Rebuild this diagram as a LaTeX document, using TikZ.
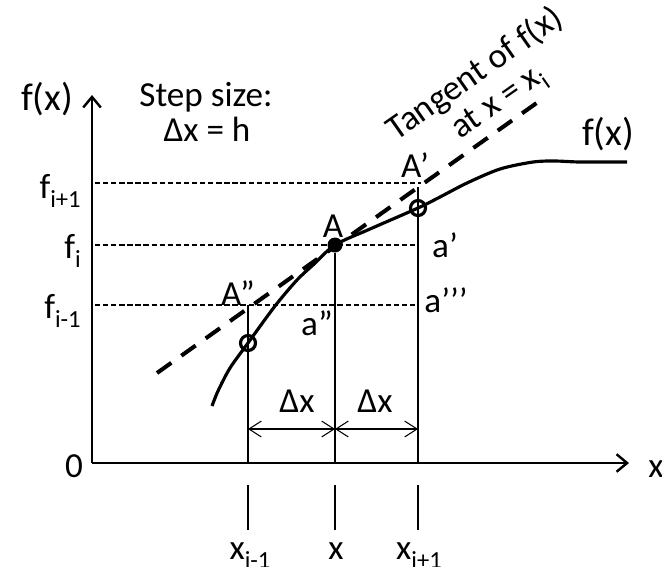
\documentclass[tikz,border=0pt]{standalone}
\usepackage{fontspec}
\setmainfont{Carlito}
\usetikzlibrary{arrows.meta}
\newcommand{\lsub}[1]{\raisebox{-0.55ex}{\fontsize{14}{14}\selectfont #1}}
\tikzset{
  axis/.style={line width=1.4pt, -{Straight Barb[length=6pt,width=10pt]}},
  guide/.style={line width=0.6pt, dash pattern=on 3pt off 1.6pt},
  vline/.style={line width=0.7pt},
  tangent/.style={line width=2.3pt, dash pattern=on 10pt off 7pt},
  curve/.style={line width=1.8pt},
  dxarrow/.style={line width=0.6pt,
    {Straight Barb[length=7pt,width=9pt]}-{Straight Barb[length=7pt,width=9pt]}},
  opendot/.style={circle, draw, line width=1.8pt, minimum size=0.3cm, inner sep=0pt},
  fulldot/.style={circle, fill, minimum size=0.3cm, inner sep=0pt},
  lbl/.style={inner sep=0pt, anchor=base, font=\fontsize{20}{24}\selectfont},
  biglbl/.style={lbl, font=\fontsize{22}{26}\selectfont},
}

\begin{document}
\begin{tikzpicture}[x=0.02cm, y=-0.02cm]
    \useasboundingbox (0,0) rectangle (662,566);
    % axes
    \coordinate (O) at (92,463);
    \coordinate (ytop) at (92,95);
    \coordinate (xend) at (629,463);
    \draw[axis] (O) -- (ytop);
    \draw[axis] (O) -- (xend);
    % grid points
    \foreach \n/\x in {m/248, 0/335, p/418} {
      \coordinate (base\n) at (\x,463);
      \coordinate (ttop\n) at (\x,485);
      \coordinate (tbot\n) at (\x,530);
      \draw[vline] (ttop\n) -- (tbot\n);
    }
    % guides to the f axis
    \coordinate (gp) at (95,183); \coordinate (gpe) at (421,183);
    \coordinate (g0) at (95,245); \coordinate (g0e) at (418,245);
    \coordinate (gm) at (95,305); \coordinate (gme) at (418,305);
    \draw[guide] (gp) -- (gpe);
    \draw[guide] (g0) -- (g0e);
    \draw[guide] (gm) -- (gme);
    % function and tangent
    \draw[curve] plot[smooth, tension=0.5] coordinates
      {(212,406) (218,391) (230,368) (248,343) (275,306) (297,280) (313,265)
       (335,245) (370,229) (418,208) (440,197) (467,183) (500,169) (533,162)
       (555,161) (580,162) (627,162)};
    \coordinate (tlo) at (157,373);
    \coordinate (thi) at (538,102);
    \draw[tangent] (tlo) -- (thi);
    \node[fulldot] (A) at (335,245) {};
    \node[opendot] (Am) at (248,343) {};
    \node[opendot] (Ap) at (418,208) {};
    \coordinate (Amm) at (248,305);
    \coordinate (App) at (418,187);
    \draw[vline] (Amm) -- (basem);
    \draw[vline] (A) -- (base0);
    \draw[vline] (App) -- (basep);
    % step arrows
    \coordinate (dl) at (248,429);
    \coordinate (dm) at (335,429);
    \coordinate (dr) at (418,429);
    \draw[dxarrow] (dl) -- (dm);
    \draw[dxarrow] (dm) -- (dr);
    % labels
    \node[biglbl] (fxl) at (47,110) {f(x)};
    \node[lbl] (step) at (206,106) {Step size:};
    \node[lbl] (stepv) at (207,141) {Δx = h};
    \node[biglbl] (fxr) at (608,145) {f(x)};
    \node[lbl, anchor=base east] (fip) at (81,198) {f\lsub{i+1}};
    \node[lbl, anchor=base east] (fi0) at (81,258) {f\lsub{i}};
    \node[lbl, anchor=base east] (fim) at (81,318) {f\lsub{i-1}};
    \node[lbl] (lO) at (74,477) {0};
    \node[lbl] (lx) at (656,477) {x};
    \node[lbl] (lxm) at (250,559) {x\lsub{i-1}};
    \node[lbl] (lx0) at (336,559) {x};
    \node[lbl] (lxp) at (419,559) {x\lsub{i+1}};
    \node[lbl] (lA) at (333,237) {A};
    \node[lbl] (lAp) at (415,177) {A’};
    \node[lbl] (lAm) at (238,305) {A”};
    \node[lbl] (la1) at (445,257) {a’};
    \node[lbl] (la2) at (317,335) {a”};
    \node[lbl] (la3) at (446,312) {a’’’};
    \node[lbl] (ldl) at (297,412) {Δx};
    \node[lbl] (ldr) at (375,412) {Δx};
    \node[lbl, anchor=center, rotate=35] (tan1) at (475,74) {Tangent of f(x)};
    \node[lbl, anchor=center, rotate=35] (tan2) at (500,104) {at x = x\lsub{i}};
\end{tikzpicture}
\end{document}
